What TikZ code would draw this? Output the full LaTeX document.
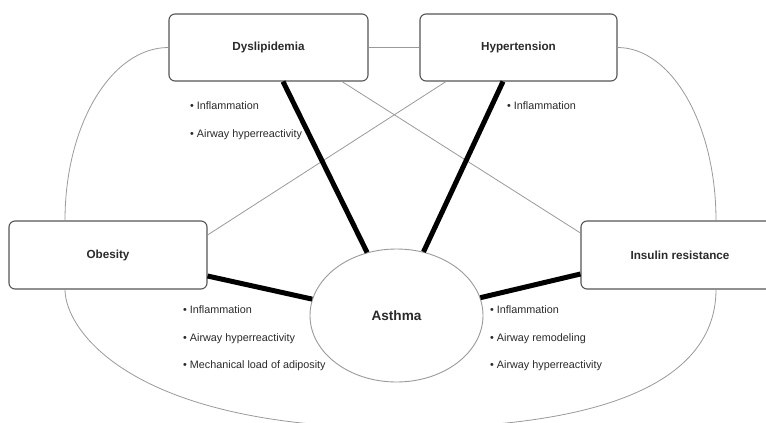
\documentclass[tikz,border=0pt]{standalone}
\usepackage{fontspec}
\setmainfont{Liberation Sans}
\usetikzlibrary{shapes.geometric}
\definecolor{boxline}{HTML}{555555}
\definecolor{thin}{HTML}{9A9A9A}
\definecolor{txt}{HTML}{2A2A2A}
\begin{document}
\begin{tikzpicture}[x=1pt,y=-1pt,
  box/.style={draw=boxline,line width=1.1pt,rounded corners=6pt,fill=white,
    inner sep=0pt,font=\fontsize{11.7}{14}\selectfont\bfseries,text=txt},
  thinline/.style={draw=thin,line width=0.8pt},
  thickline/.style={draw=black,line width=5pt},
  bul/.style={anchor=west,inner sep=0pt,font=\fontsize{10.8}{13}\selectfont,text=txt}]
\useasboundingbox (0,0) rectangle (766,423);
\fill[white] (0,0) rectangle (766,423);
% thin connectors behind boxes
\node[box,minimum width=199pt,minimum height=67pt] (dys) at (268.5,47.5) {Dyslipidemia};
\node[box,minimum width=197pt,minimum height=67pt] (hyp) at (518.5,47.5) {Hypertension};
\node[box,minimum width=198pt,minimum height=68pt] (ob) at (108,255) {Obesity};
\node[box,minimum width=198pt,minimum height=68pt] (ins) at (680,255) {Insulin resistance};
\node[ellipse,draw=thin,line width=0.9pt,fill=white,minimum width=173pt,minimum height=133pt,
  inner sep=0pt,font=\fontsize{13.6}{16}\selectfont\bfseries,text=txt] (ast) at (396.5,315.5) {Asthma};
\coordinate (bot) at (400,428);
\begin{scope}[on background layer/.style={}]
\draw[thinline] (dys.east) -- (hyp.west);
\draw[thinline] ([xshift=73.5pt]dys.south) -- ([yshift=22pt]ins.west);
\draw[thinline] ([xshift=-72.5pt]hyp.south) -- ([yshift=20pt]ob.east);
\draw[thinline] (dys.west) .. controls +(-57,0) and +(0,-96) .. ([xshift=-43pt]ob.north);
\draw[thinline] (hyp.east) .. controls +(54,0) and +(0,-96) .. ([xshift=36pt]ins.north);
\draw[thinline] ([xshift=-43pt]ob.south) .. controls +(0,40) and (130,428) .. (bot)
  .. controls (650,428) and +(0,70) .. ([xshift=36pt]ins.south);
\end{scope}
% thick connectors
\draw[thickline] ([xshift=14.5pt]dys.south) -- (ast.115.7);
\draw[thickline] ([xshift=-15.5pt]hyp.south) -- (ast.67.7);
\draw[thickline] ([yshift=-21pt]ob.east) -- (ast.169);
\draw[thickline] ([yshift=-19pt]ins.west) -- (ast.12.4);
% bullet texts
\node[bul] (d1) at (190,106) {• Inflammation};
\node[bul] (d2) at (190,135) {• Airway hyperreactivity};
\node[bul] (h1) at (507,106) {• Inflammation};
\node[bul] (o1) at (183,310) {• Inflammation};
\node[bul] (o2) at (183,339) {• Airway hyperreactivity};
\node[bul] (o3) at (183,366) {• Mechanical load of adiposity};
\node[bul] (i1) at (490,310) {• Inflammation};
\node[bul] (i2) at (490,339) {• Airway remodeling};
\node[bul] (i3) at (490,366) {• Airway hyperreactivity};
\end{tikzpicture}
\end{document}
